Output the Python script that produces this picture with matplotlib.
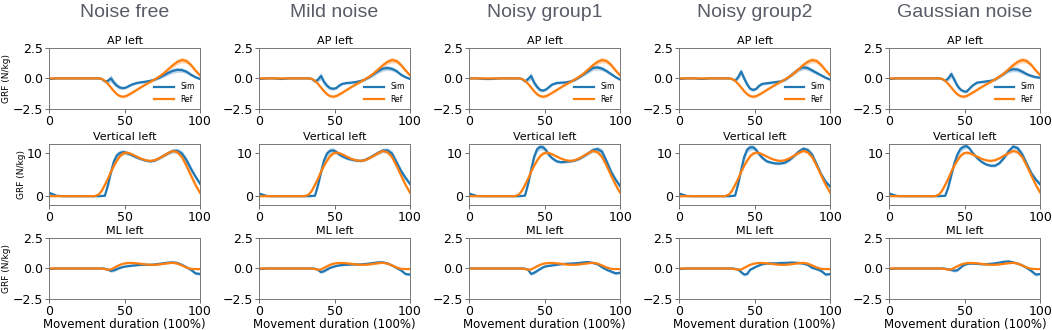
import matplotlib.pyplot as plt

pct = [0, 5, 10, 15, 20, 25, 30, 33, 35, 37, 39, 41, 43, 45, 47, 49, 51, 53,
       55, 58, 61, 64, 67, 70, 73, 76, 79, 82, 85, 88, 91, 94, 97, 100]

conditions = ["Noise free", "Mild noise", "Noisy group1", "Noisy group2", "Gaussian noise"]
row_titles = ["AP left", "Vertical left", "ML left"]

# --- AP ---
ap_ref = [0, 0, 0, 0, 0, 0, 0, 0, -0.05, -0.2, -0.45, -0.75, -1.05, -1.3, -1.45, -1.5, -1.45,
          -1.32, -1.18, -0.95, -0.72, -0.5, -0.3, -0.08, 0.15, 0.42, 0.75, 1.08, 1.35, 1.5,
          1.42, 1.1, 0.65, 0.25]
ap_ref_sd = [0.02, 0.02, 0.02, 0.02, 0.02, 0.02, 0.02, 0.02, 0.05, 0.08, 0.1, 0.12, 0.12, 0.12,
             0.12, 0.12, 0.1, 0.1, 0.1, 0.08, 0.08, 0.08, 0.08, 0.08, 0.1, 0.12, 0.15, 0.2,
             0.22, 0.22, 0.2, 0.18, 0.15, 0.12]
ap_noise_free = [-0.05, 0, 0, 0, 0, 0, 0, 0, -0.05, -0.25, -0.2, 0.0, -0.35, -0.6, -0.75, -0.8,
                 -0.75, -0.62, -0.5, -0.38, -0.32, -0.27, -0.2, -0.1, 0.05, 0.25, 0.45, 0.62,
                 0.7, 0.68, 0.55, 0.3, 0.1, -0.05]
ap_mild = [-0.05, 0, 0, -0.05, 0, 0, 0, 0, -0.05, -0.25, -0.1, 0.2, -0.3, -0.6, -0.8, -0.85,
           -0.8, -0.6, -0.45, -0.38, -0.35, -0.3, -0.22, -0.1, 0.1, 0.35, 0.6, 0.8, 0.85, 0.78,
           0.6, 0.3, 0.1, -0.05]
ap_noisy1 = [0, 0, -0.05, -0.05, 0, 0, 0, 0, -0.05, -0.25, -0.05, 0.2, -0.35, -0.7, -0.95, -1.0,
             -0.9, -0.7, -0.5, -0.38, -0.35, -0.33, -0.25, -0.12, 0.1, 0.35, 0.6, 0.85, 0.9,
             0.8, 0.6, 0.35, 0.1, -0.1]
ap_noisy2 = [-0.05, 0, 0, -0.05, 0, 0, 0, 0, -0.05, -0.2, 0.1, 0.55, 0.0, -0.5, -0.85, -0.95,
             -0.85, -0.6, -0.45, -0.4, -0.35, -0.3, -0.25, -0.12, 0.15, 0.45, 0.75, 0.9, 0.85,
             0.65, 0.45, 0.25, 0.05, -0.1]
ap_gauss = [-0.05, 0, 0, 0, 0, 0, 0, 0, -0.05, -0.2, 0.0, 0.35, -0.1, -0.6, -0.9, -1.05, -1.1,
            -0.85, -0.6, -0.35, -0.3, -0.25, -0.2, -0.1, 0.15, 0.4, 0.65, 0.75, 0.72, 0.55,
            0.35, 0.2, 0.1, 0.05]
ap_sim_sd = [0.05, 0.02, 0.02, 0.02, 0.02, 0.02, 0.02, 0.03, 0.05, 0.1, 0.2, 0.3, 0.25, 0.2,
             0.15, 0.12, 0.1, 0.1, 0.1, 0.1, 0.1, 0.1, 0.1, 0.1, 0.12, 0.15, 0.18, 0.2, 0.2,
             0.18, 0.15, 0.12, 0.1, 0.08]

# --- Vertical ---
vt_ref = [0, 0, 0, 0, 0, 0, 0, 0.4, 1.3, 2.6, 4.0, 5.6, 7.0, 8.2, 9.2, 9.8, 10.0, 9.9, 9.6,
          9.1, 8.6, 8.25, 8.1, 8.25, 8.7, 9.3, 9.9, 10.4, 10.1, 9.0, 7.0, 4.8, 2.6, 0.8]
vt_ref_sd = [0.05, 0.05, 0.05, 0.05, 0.05, 0.05, 0.05, 0.1, 0.2, 0.3, 0.4, 0.4, 0.4, 0.4, 0.35,
             0.3, 0.3, 0.3, 0.25, 0.2, 0.2, 0.2, 0.2, 0.2, 0.2, 0.25, 0.3, 0.3, 0.4, 0.5, 0.6,
             0.6, 0.5, 0.4]
vt_noise_free = [0.8, 0.1, 0, 0, 0, 0, 0, 0, 0.05, 0.1, 2.5, 5.5, 8.0, 9.4, 9.9, 10.1, 10.0,
                 9.7, 9.4, 8.9, 8.5, 8.2, 8.0, 8.2, 8.7, 9.3, 9.9, 10.4, 10.4, 9.8, 8.3, 6.3,
                 4.5, 2.9]
vt_mild = [0.6, 0.05, 0, 0, 0, 0, 0, 0, 0.05, 0.1, 2.5, 5.5, 8.2, 9.8, 10.4, 10.5, 10.2, 9.6,
           9.2, 8.7, 8.4, 8.2, 8.1, 8.3, 8.8, 9.4, 10.0, 10.5, 10.5, 9.8, 7.8, 5.8, 4.2, 2.8]
vt_noisy1 = [0.6, 0.05, 0, 0, 0, 0, 0, 0, 0.05, 0.15, 2.8, 6.0, 9.0, 10.8, 11.3, 11.2, 10.5,
             9.4, 8.7, 8.0, 7.8, 7.9, 8.0, 8.2, 8.6, 9.2, 9.9, 10.6, 10.8, 10.2, 8.0, 5.6,
             3.8, 2.3]
vt_noisy2 = [0.6, 0.05, 0, 0, 0, 0, 0, 0, 0.05, 0.15, 2.8, 6.0, 9.0, 10.7, 11.2, 11.2, 10.6,
             9.6, 8.8, 8.0, 7.7, 7.5, 7.5, 7.7, 8.3, 9.2, 10.2, 10.9, 10.6, 9.5, 7.3, 5.0,
             3.3, 2.2]
vt_gauss = [0.6, 0.05, 0, 0, 0, 0, 0, 0, 0.05, 0.1, 2.0, 4.8, 7.5, 9.5, 10.8, 11.3, 11.5,
            11.0, 10.0, 8.8, 7.9, 7.3, 7.0, 7.0, 7.6, 8.8, 10.3, 11.4, 11.0, 9.6, 7.4, 5.3,
            3.8, 2.7]
vt_sim_sd = [0.3, 0.1, 0.05, 0.05, 0.05, 0.05, 0.05, 0.05, 0.05, 0.1, 0.5, 0.8, 0.8, 0.7, 0.7,
             0.6, 0.5, 0.4, 0.4, 0.35, 0.3, 0.3, 0.3, 0.3, 0.3, 0.35, 0.4, 0.5, 0.6, 0.7, 0.7,
             0.6, 0.5, 0.5]

# --- ML ---
ml_ref = [0, 0, 0, 0, 0, 0, 0, 0, -0.02, -0.05, -0.1, -0.08, 0.05, 0.18, 0.3, 0.38, 0.43,
          0.45, 0.45, 0.42, 0.38, 0.33, 0.3, 0.3, 0.33, 0.38, 0.43, 0.46, 0.4, 0.25, 0.08,
          -0.03, -0.05, -0.05]
ml_ref_sd = [0.02, 0.02, 0.02, 0.02, 0.02, 0.02, 0.02, 0.02, 0.03, 0.04, 0.05, 0.05, 0.05,
             0.05, 0.05, 0.05, 0.05, 0.05, 0.05, 0.05, 0.04, 0.04, 0.04, 0.04, 0.04, 0.04,
             0.05, 0.05, 0.05, 0.05, 0.05, 0.04, 0.04, 0.04]
ml_noise_free = [-0.05, 0, 0, 0, 0, 0, 0, 0, 0, -0.02, -0.1, -0.2, -0.15, -0.05, 0.05, 0.12,
                 0.17, 0.2, 0.23, 0.27, 0.3, 0.3, 0.3, 0.33, 0.38, 0.43, 0.48, 0.5, 0.45, 0.3,
                 0.1, -0.1, -0.4, -0.45]
ml_mild = [-0.05, 0, 0, 0, 0, 0, 0, 0, 0, -0.02, -0.12, -0.3, -0.22, -0.08, 0.05, 0.13, 0.2,
           0.25, 0.28, 0.3, 0.32, 0.33, 0.33, 0.36, 0.4, 0.45, 0.5, 0.5, 0.42, 0.25, 0.05,
           -0.15, -0.45, -0.5]
ml_noisy1 = [0, 0, 0, 0, 0, 0, 0, 0, 0, -0.02, -0.1, -0.45, -0.35, -0.2, -0.05, 0.1, 0.18,
             0.22, 0.25, 0.3, 0.35, 0.38, 0.4, 0.42, 0.45, 0.5, 0.52, 0.45, 0.35, 0.1, -0.1,
             -0.25, -0.4, -0.35]
ml_noisy2 = [-0.05, 0, 0, 0, 0, 0, 0, 0, 0, -0.03, -0.1, -0.3, -0.5, -0.45, -0.1, 0.02, 0.15,
             0.25, 0.35, 0.4, 0.42, 0.42, 0.45, 0.45, 0.48, 0.48, 0.45, 0.4, 0.3, 0.05, -0.05,
             -0.2, -0.5, -0.45]
ml_gauss = [-0.05, 0, 0, 0, 0, 0, 0, 0, 0, -0.02, -0.08, -0.12, -0.18, -0.15, 0.05, 0.25,
            0.35, 0.4, 0.4, 0.38, 0.35, 0.35, 0.38, 0.42, 0.48, 0.55, 0.58, 0.5, 0.4, 0.25,
            0.05, -0.2, -0.5, -0.45]
ml_sim_sd = [0.03, 0.02, 0.02, 0.02, 0.02, 0.02, 0.02, 0.03, 0.03, 0.05, 0.08, 0.12, 0.12,
             0.1, 0.08, 0.07, 0.06, 0.06, 0.06, 0.06, 0.06, 0.06, 0.06, 0.07, 0.08, 0.08, 0.08,
             0.08, 0.08, 0.08, 0.1, 0.12, 0.12, 0.1]

rows = [
    (ap_ref, ap_ref_sd, [ap_noise_free, ap_mild, ap_noisy1, ap_noisy2, ap_gauss], ap_sim_sd,
     (-2.5, 2.5), [-2.5, 0, 2.5]),
    (vt_ref, vt_ref_sd, [vt_noise_free, vt_mild, vt_noisy1, vt_noisy2, vt_gauss], vt_sim_sd,
     (-2, 12), [0, 10]),
    (ml_ref, ml_ref_sd, [ml_noise_free, ml_mild, ml_noisy1, ml_noisy2, ml_gauss], ml_sim_sd,
     (-2.5, 2.5), [-2.5, 0, 2.5]),
]

SIM_C = '#1f77b4'
REF_C = '#ff7f0e'

fig = plt.figure(figsize=(10.52, 3.3), dpi=100)

lefts = [0.0466 + i * 0.1997 for i in range(5)]
width = 0.1435
bottoms = [0.670, 0.379, 0.094]
height = 0.185


def band(ax, y, sd, color):
    lo = [a - b for a, b in zip(y, sd)]
    hi = [a + b for a, b in zip(y, sd)]
    ax.fill_between(pct, lo, hi, color=color, alpha=0.3, lw=0)


for c, cond in enumerate(conditions):
    for r, (ref, ref_sd, sims, sim_sd, ylim, yticks) in enumerate(rows):
        ax = fig.add_axes([lefts[c], bottoms[r], width, height])
        band(ax, sims[c], sim_sd, SIM_C)
        band(ax, ref, ref_sd, REF_C)
        ax.plot(pct, sims[c], color=SIM_C, lw=1.6, label='Sim')
        ax.plot(pct, ref, color=REF_C, lw=1.6, label='Ref')

        ax.set_xlim(0, 100)
        ax.set_ylim(*ylim)
        ax.set_xticks([0, 50, 100])
        ax.set_yticks(yticks)
        ax.set_title(row_titles[r], fontsize=8, pad=2.5)
        ax.tick_params(labelsize=9, length=3, width=0.6, pad=1.5, colors='#555555',
                       labelcolor='black')
        for sp in ax.spines.values():
            sp.set_color('#777777')
            sp.set_linewidth(0.7)

        if r == 0:
            ax.legend(loc='lower right', frameon=False, fontsize=5.5, handlelength=2.6,
                      borderaxespad=0.3, labelspacing=0.4)
        if c == 0:
            ax.set_ylabel('GRF (N/kg)', fontsize=6.5, labelpad=1)
        if r == 2:
            ax.set_xlabel('Movement duration (100%)', fontsize=8.5, labelpad=0)

    fig.text(lefts[c] + width / 2, 0.962, cond, ha='center', va='center', fontsize=14,
             color='#575c66', family='Liberation Sans')

fig.savefig('out.png', dpi=100)
